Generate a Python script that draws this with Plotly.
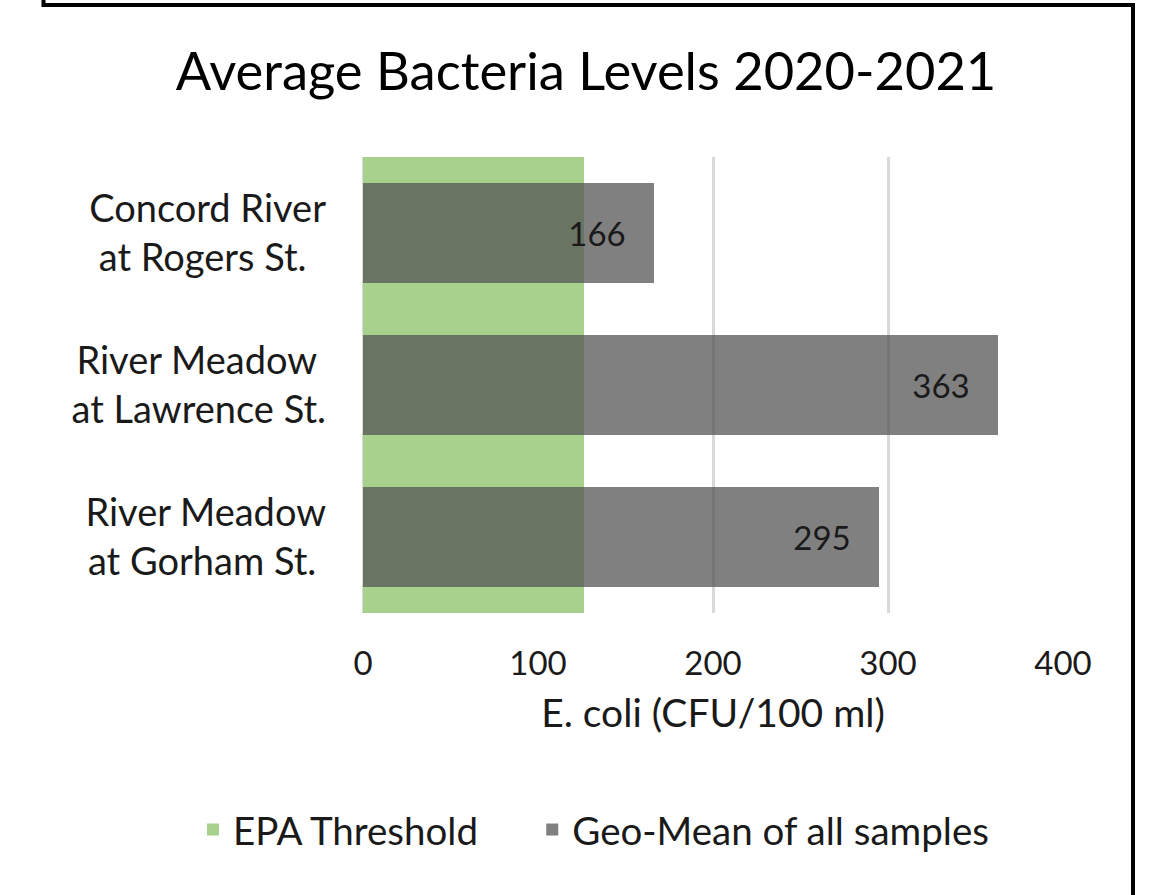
import plotly.graph_objects as go

NB = "\u00a0"
categories = ["Concord River<br>at Rogers St." + NB * 2, "River Meadow" + NB + "<br>at Lawrence St.", "River Meadow<br>at Gorham St." + NB]
geo_mean = [166, 363, 295]
epa_threshold = [126, 126, 126]
x_ticks = [0, 100, 200, 300, 400]
series_names = ["EPA Threshold", "Geo-Mean of all samples"]

FONT = "Lato"
TXT = "#1a1a1a"

fig = go.Figure()
fig.add_trace(go.Bar(
    y=categories, x=epa_threshold, orientation="h", name=series_names[0] + NB * 5,
    marker=dict(color="#A9D18E", line=dict(width=0)), width=1.0,
    hoverinfo="skip",
))
fig.add_trace(go.Bar(
    y=categories, x=geo_mean, orientation="h", name=series_names[1],
    marker=dict(color="rgba(84,84,84,0.745)", line=dict(width=0)), width=0.66,
    text=[f"{v}" + NB * 3 for v in geo_mean], textposition="inside",
    insidetextanchor="end", textangle=0,
    insidetextfont=dict(family=FONT, size=33, color=TXT),
))

W, H = 1149, 895
L, R, T, B = 363, 86, 157, 282
pw, ph = W - L - R, H - T - B

def px_x(p):
    return (p - L) / pw

def px_y(p):
    return (H - B - p) / ph

fig.update_layout(
    width=W, height=H,
    margin=dict(l=L, r=R, t=T, b=B, pad=0),
    paper_bgcolor="white", plot_bgcolor="white",
    barmode="overlay", bargap=0,
    font=dict(family=FONT, color=TXT),
    title=dict(text="Average Bacteria Levels 2020-2021", x=586 / W, xanchor="center", xref="container",
               y=1 - 72 / H, yanchor="middle", font=dict(size=52.5, family=FONT, color="black")),
    xaxis=dict(range=[0, 400], tickvals=x_ticks, showgrid=True, gridcolor="#D9D9D9", gridwidth=3,
               zeroline=True, zerolinecolor="#D9D9D9", zerolinewidth=3, showline=False,
               tickfont=dict(size=33, family=FONT, color=TXT), ticks="", ticklabelstandoff=28,
               title=dict(text="E. coli (CFU/100 ml)", font=dict(size=39, family=FONT, color=TXT), standoff=18),
               fixedrange=True),
    yaxis=dict(autorange="reversed", showgrid=False, zeroline=False, showline=False, ticks="",
               tickfont=dict(size=38, family=FONT, color=TXT), ticklabelstandoff=36, fixedrange=True),
    legend=dict(orientation="h", x=px_x(193), xanchor="left", xref="paper",
                y=px_y(830), yanchor="middle", yref="paper",
                font=dict(size=38.5, family=FONT, color=TXT), traceorder="normal",
                itemwidth=30),
    showlegend=True,
)
fig.add_shape(type="path", xref="paper", yref="paper",
              path=f"M {px_x(43.5)},{px_y(-20)} L {px_x(43.5)},{px_y(5)} L {px_x(1133)},{px_y(5)} L {px_x(1133)},{px_y(920)}",
              line=dict(color="black", width=4), layer="above")

fig.write_html("out.html", config={"displayModeBar": False},
               post_script="document.body.style.margin='0';document.body.style.overflow='hidden';")
